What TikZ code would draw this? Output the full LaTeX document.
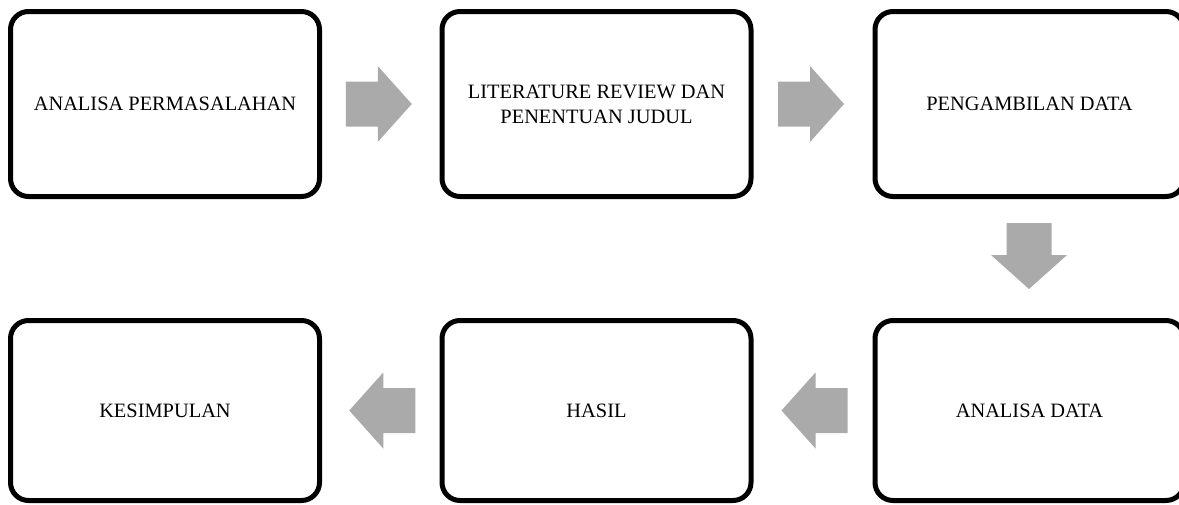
\documentclass[tikz,border=0pt]{standalone}
\usepackage{fontspec}
\setmainfont{Liberation Serif}
\usetikzlibrary{calc}
\definecolor{arrowgray}{RGB}{170,170,170}
\tikzset{
  stepbox/.style={draw=black, line width=5pt, rounded corners=18pt, fill=white,
    minimum width=309pt, align=center, inner sep=0pt,
    font=\fontsize{20.4}{25}\selectfont},
  toprow/.style={stepbox, minimum height=185pt},
  botrow/.style={stepbox, minimum height=180pt},
  blockarrow/.pic={
    \fill[arrowgray] (-33,-22.5) -- (-1,-22.5) -- (-1,-38) -- (33,0)
      -- (-1,38) -- (-1,22.5) -- (-33,22.5) -- cycle;
  }
}
\begin{document}
\begin{tikzpicture}[x=1pt,y=-1pt]
\path[use as bounding box, clip] (0,0) rectangle (1179,504);
\fill[white] (0,0) rectangle (1179,504);

\node[toprow] (a) at (165,104) {ANALISA PERMASALAHAN};
\node[toprow] (b) at (596.5,104) {LITERATURE REVIEW DAN\\PENENTUAN JUDUL};
\node[toprow] (c) at (1029.5,104) {PENGAMBILAN DATA};
\node[botrow] (d) at (1029.5,410.5) {ANALISA DATA};
\node[botrow] (e) at (596.5,410.5) {HASIL};
\node[botrow] (f) at (165,410.5) {KESIMPULAN};

\path ($(a.east)!0.5!(b.west)$) ++(-2,0) pic {blockarrow};
\path ($(b.east)!0.5!(c.west)$) ++(-2,0) pic {blockarrow};
\path ($(c.south)!0.5!(d.north)$) ++(-0.5,-2.5) pic[rotate=-90] {blockarrow};
\path ($(d.west)!0.5!(e.east)$) ++(1.5,0) pic[rotate=180] {blockarrow};
\path ($(e.west)!0.5!(f.east)$) ++(1.5,0) pic[rotate=180] {blockarrow};
\end{tikzpicture}
\end{document}
